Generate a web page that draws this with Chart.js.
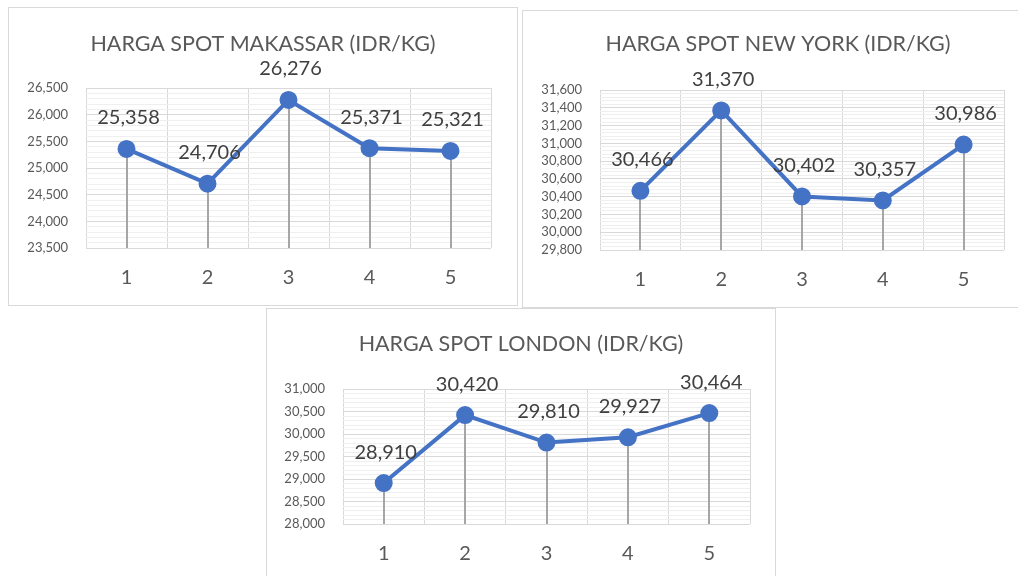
<!DOCTYPE html>
<html>
<head>
<meta charset="utf-8">
<script src="https://cdn.jsdelivr.net/npm/chart.js@4.4.1/dist/chart.umd.min.js"></script>
<style>
  body { margin: 0; background: #fff; width: 1018px; height: 576px; overflow: hidden; position: relative; }
  .box { position: absolute; border: 1px solid #d9d9d9; background: #fff; }
  .box canvas { position: absolute; left: 0; top: 0; }
</style>
</head>
<body>
<div class="box" style="left:8px;top:7px;width:508px;height:297px;"><canvas id="c1" width="508" height="297"></canvas></div>
<div class="box" style="left:522px;top:10px;width:508px;height:296px;"><canvas id="c2" width="508" height="296"></canvas></div>
<div class="box" style="left:266px;top:308px;width:508px;height:280px;"><canvas id="c3" width="508" height="280"></canvas></div>
<script>
// data
var periods = ['1', '2', '3', '4', '5'];
var makassar = [25358, 24706, 26276, 25371, 25321];
var newYork = [30466, 31370, 30402, 30357, 30986];
var london = [28910, 30420, 29810, 29927, 30464];

var titles = ['HARGA SPOT MAKASSAR (IDR/KG)', 'HARGA SPOT NEW YORK (IDR/KG)', 'HARGA SPOT LONDON (IDR/KG)'];
var yMin = [23500, 29800, 28000];
var yMax = [26500, 31600, 31000];
var yStep = [500, 200, 500];

var FONT = 'Lato, "Open Sans", sans-serif';

// garis jatuh + label data + judul
var extras = {
    id: 'extras',
    beforeDatasetsDraw: function(chart) {
        var ctx = chart.ctx;
        var meta = chart.getDatasetMeta(0);
        var bottom = chart.chartArea.bottom;
        ctx.save();
        ctx.strokeStyle = '#a6a6a6';
        ctx.lineWidth = 2;
        meta.data.forEach(function(p) {
            ctx.beginPath();
            ctx.moveTo(Math.round(p.x), p.y);
            ctx.lineTo(Math.round(p.x), bottom);
            ctx.stroke();
        });
        ctx.restore();
    },
    afterDatasetsDraw: function(chart) {
        var ctx = chart.ctx;
        var meta = chart.getDatasetMeta(0);
        var values = chart.data.datasets[0].data;
        var opt = chart.options.plugins.extras;
        ctx.save();
        ctx.fillStyle = '#404040';
        ctx.font = '20px ' + FONT;
        ctx.textAlign = 'center';
        ctx.textBaseline = 'middle';
        meta.data.forEach(function(p, i) {
            ctx.fillText(values[i].toLocaleString('en-US'), p.x + 2, p.y - 31);
        });
        ctx.fillStyle = '#595959';
        ctx.font = '21.5px ' + FONT;
        ctx.fillText(opt.title, opt.titleX, opt.titleY);
        ctx.restore();
    }
};

function makeChart(id, values, k, pad, titleX, titleY) {
    var major = yStep[k];
    new Chart(document.getElementById(id), {
        type: 'line',
        data: {
            labels: periods,
            datasets: [{
                data: values,
                borderColor: '#4472C4',
                backgroundColor: '#4472C4',
                borderWidth: 4,
                pointRadius: 7,
                pointBackgroundColor: '#4472C4',
                pointBorderColor: '#4472C4',
                tension: 0
            }]
        },
        options: {
            responsive: false,
            animation: false,
            layout: { padding: pad },
            plugins: {
                legend: { display: false },
                tooltip: { enabled: false },
                extras: { title: titles[k], titleX: titleX, titleY: titleY }
            },
            scales: {
                x: {
                    offset: true,
                    grid: { offset: true, color: '#d9d9d9', lineWidth: 1, drawTicks: false },
                    border: { display: false },
                    ticks: { color: '#595959', font: { family: FONT, size: 20 }, padding: 18 },
                    afterFit: function(s) { s.height = 40; }
                },
                y: {
                    min: yMin[k],
                    max: yMax[k],
                    grid: {
                        drawTicks: false,
                        color: function(c) {
                            return c.tick && c.tick.value % major === 0 ? '#d9d9d9' : '#efefef';
                        }
                    },
                    border: { display: false },
                    ticks: {
                        stepSize: major / 5,
                        autoSkip: false,
                        color: '#595959',
                        font: { family: FONT, size: 13 },
                        padding: 18,
                        callback: function(v) {
                            return v % major === 0 ? v.toLocaleString('en-US') : '';
                        }
                    },
                    afterFit: function(s) { s.width = 60; }
                }
            }
        },
        plugins: [extras]
    });
}

makeChart('c1', makassar, 0, { left: 17, right: 26, top: 80, bottom: 17 }, 254, 36);
makeChart('c2', newYork, 1, { left: 17, right: 27, top: 79, bottom: 17 }, 255, 33);
makeChart('c3', london, 2, { left: 16, right: 25, top: 80, bottom: 25 }, 254, 35);
</script>
</body>
</html>
